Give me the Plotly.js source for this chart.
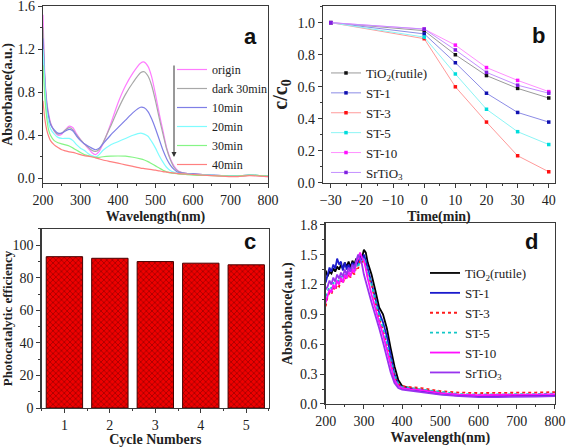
<!DOCTYPE html>
<html><head><meta charset="utf-8">
<script src="https://cdn.plot.ly/plotly-3.0.1.min.js"></script>
<style>html,body{margin:0;padding:0;background:#fff}#chart{width:567px;height:447px}</style>
</head><body><div id="chart"></div><script>
// ---------- Panel a: UV-vis spectra during degradation ----------
var wlA = [200,205,210,215,220,230,240,250,260,270,280,290,300,310,320,330,340,350,360,380,400,420,440,460,470,480,490,500,510,520,530,540,550,560,580,600,650,700,720,750,780,800];
var absOrigin = [1.52,0.95,0.72,0.60,0.52,0.44,0.40,0.41,0.45,0.485,0.47,0.41,0.36,0.32,0.28,0.24,0.22,0.25,0.32,0.50,0.70,0.86,0.98,1.07,1.08,1.04,0.94,0.78,0.60,0.44,0.28,0.18,0.11,0.07,0.045,0.04,0.03,0.02,0.02,0.03,0.02,0.015];
var absDark30 = [1.40,0.92,0.70,0.58,0.51,0.44,0.41,0.42,0.45,0.47,0.45,0.40,0.36,0.32,0.29,0.26,0.25,0.27,0.33,0.48,0.64,0.78,0.89,0.98,0.99,0.95,0.86,0.72,0.56,0.41,0.27,0.17,0.10,0.065,0.045,0.04,0.03,0.02,0.02,0.03,0.025,0.02];
var abs10 = [1.30,0.90,0.68,0.57,0.50,0.45,0.42,0.42,0.44,0.455,0.44,0.39,0.35,0.32,0.30,0.28,0.265,0.28,0.32,0.40,0.47,0.54,0.61,0.66,0.655,0.62,0.55,0.46,0.36,0.26,0.18,0.12,0.08,0.055,0.045,0.04,0.03,0.02,0.02,0.03,0.025,0.02];
var abs20 = [1.20,0.85,0.62,0.52,0.46,0.41,0.38,0.37,0.37,0.37,0.35,0.31,0.28,0.26,0.23,0.21,0.20,0.22,0.26,0.31,0.34,0.37,0.40,0.42,0.41,0.39,0.34,0.28,0.21,0.15,0.10,0.07,0.055,0.045,0.04,0.035,0.03,0.02,0.02,0.03,0.025,0.02];
var abs30 = [1.05,0.75,0.56,0.45,0.40,0.35,0.33,0.32,0.31,0.30,0.28,0.26,0.24,0.22,0.21,0.20,0.195,0.195,0.20,0.205,0.207,0.205,0.195,0.18,0.17,0.155,0.135,0.115,0.095,0.075,0.06,0.05,0.045,0.04,0.035,0.03,0.025,0.02,0.02,0.03,0.025,0.02];
var abs40 = [0.72,0.55,0.45,0.39,0.35,0.31,0.285,0.265,0.255,0.245,0.24,0.23,0.22,0.21,0.205,0.20,0.19,0.18,0.17,0.155,0.14,0.125,0.11,0.095,0.09,0.085,0.08,0.075,0.068,0.062,0.057,0.052,0.048,0.044,0.04,0.035,0.025,0.015,0.015,0.025,0.02,0.015];
var namesA = ['origin','dark 30min','10min','20min','30min','40min'];

// ---------- Panel b: c/c0 vs time ----------
var timeB = [-30,0,10,20,30,40];
var ccTiO2 = [1.0,0.95,0.80,0.67,0.59,0.53];
var ccST1 = [1.0,0.93,0.75,0.56,0.44,0.38];
var ccST3 = [1.0,0.90,0.60,0.38,0.17,0.07];
var ccST5 = [1.0,0.91,0.68,0.46,0.32,0.24];
var ccST10 = [1.0,0.96,0.86,0.72,0.64,0.57];
var ccSrTiO3 = [1.0,0.96,0.83,0.69,0.61,0.56];
var namesB = ['TiO<sub>2</sub>(rutile)','ST-1','ST-3','ST-5','ST-10','SrTiO<sub>3</sub>'];

// ---------- Panel c: cycling ----------
var cycles = [1,2,3,4,5];
var efficiency = [93,92,90,89,88];

// ---------- Panel d: diffuse reflectance absorbance ----------
var wlD = [200,205,210,215,220,225,230,235,240,245,250,255,260,265,270,275,280,285,290,295,300,305,310,320,330,340,350,360,370,380,390,400,420,450,500,550,600,650,700,750,800];
var dTiO2 = [1.34,1.28,1.33,1.31,1.36,1.33,1.38,1.35,1.40,1.36,1.42,1.38,1.43,1.37,1.44,1.40,1.46,1.42,1.50,1.47,1.55,1.52,1.42,1.30,1.14,0.97,0.90,0.76,0.56,0.38,0.24,0.18,0.16,0.14,0.11,0.09,0.08,0.08,0.08,0.085,0.09];
var dST1 = [1.22,1.30,1.37,1.33,1.40,1.36,1.46,1.40,1.43,1.34,1.42,1.35,1.40,1.33,1.42,1.38,1.44,1.40,1.48,1.45,1.50,1.44,1.36,1.22,1.06,0.92,0.82,0.68,0.48,0.30,0.20,0.16,0.15,0.13,0.10,0.085,0.08,0.08,0.08,0.08,0.085];
var dST3 = [0.98,1.08,1.12,1.10,1.17,1.14,1.20,1.18,1.24,1.21,1.28,1.25,1.31,1.27,1.34,1.30,1.38,1.36,1.44,1.42,1.45,1.38,1.28,1.21,1.02,0.86,0.74,0.58,0.42,0.27,0.20,0.18,0.17,0.16,0.13,0.115,0.11,0.11,0.11,0.115,0.12];
var dST5 = [1.08,1.14,1.18,1.16,1.22,1.19,1.25,1.23,1.28,1.25,1.31,1.28,1.34,1.30,1.36,1.33,1.40,1.37,1.45,1.42,1.47,1.40,1.32,1.20,1.04,0.88,0.77,0.60,0.43,0.28,0.20,0.17,0.16,0.145,0.12,0.10,0.095,0.095,0.095,0.10,0.105];
var dST10 = [1.02,1.10,1.15,1.12,1.20,1.16,1.24,1.20,1.27,1.22,1.30,1.26,1.33,1.28,1.36,1.32,1.42,1.46,1.52,1.47,1.44,1.36,1.26,1.10,0.95,0.82,0.70,0.54,0.38,0.24,0.18,0.16,0.15,0.14,0.11,0.095,0.09,0.09,0.09,0.095,0.10];
var dSrTiO3 = [1.15,1.18,1.24,1.20,1.27,1.23,1.30,1.26,1.32,1.28,1.35,1.30,1.37,1.33,1.40,1.36,1.44,1.50,1.46,1.40,1.30,1.22,1.16,1.02,0.90,0.76,0.62,0.46,0.32,0.21,0.16,0.145,0.135,0.12,0.095,0.08,0.07,0.07,0.07,0.075,0.08];
var namesD = ['TiO<sub>2</sub>(rutile)','ST-1','ST-3','ST-5','ST-10','SrTiO<sub>3</sub>'];
var yTicksD = [0, 0.3, 0.6, 0.9, 1.2, 1.5, 1.8];
var yTickTextD = ['0.0','0.3','0.6','0.9','1.2','1.5','1.8'];

var serif = 'Liberation Serif';
var sans = 'Liberation Sans';

var traces = [];
var seriesA = [absOrigin, absDark30, abs10, abs20, abs30, abs40];
var colorsA = ['#ff7cff','#a8a8a8','#7f7fe6','#7ffcff','#86f586','#ff8080'];
seriesA.forEach(function(s,i){
  traces.push({x: wlA, y: s, name: namesA[i], type:'scatter', mode:'lines', line:{color:colorsA[i], width:1.2, shape:'spline', smoothing:0.6}, xaxis:'x', yaxis:'y', legend:'legend'});
});

var seriesB = [ccTiO2, ccST1, ccST3, ccST5, ccST10, ccSrTiO3];
var lineColB = ['#9a9a9a','#8c8ce6','#ff9a9a','#8cf5f5','#ff90ff','#c490ff'];
var mkColB = ['#111111','#1010b0','#ff1010','#00dcdc','#ff10ff','#8020e0'];
seriesB.forEach(function(s,i){
  traces.push({x: timeB, y: s, name: namesB[i], type:'scatter', mode:'lines+markers', line:{color:lineColB[i], width:1}, marker:{symbol:'square', size:3.5, color:mkColB[i]}, xaxis:'x2', yaxis:'y2', legend:'legend2'});
});

traces.push({x: cycles, y: efficiency, type:'bar', showlegend:false, xaxis:'x3', yaxis:'y3',
  marker:{color:'#ee0000', line:{color:'#4a0000', width:1}, pattern:{shape:'x', fgcolor:'#7a0000', bgcolor:'#ee0000', size:4, solidity:0.25}}});

var seriesD = [dTiO2, dST1, dST3, dST5, dST10, dSrTiO3];
var colD = ['#000000','#1a1acc','#ff1a1a','#10c8c8','#ff10ff','#9933ee'];
var dashD = ['solid','solid','dot','dot','solid','solid'];
seriesD.forEach(function(s,i){
  traces.push({x: wlD, y: s, name: namesD[i], type:'scatter', mode:'lines', line:{color:colD[i], width:1.8, dash:dashD[i]}, xaxis:'x4', yaxis:'y4', legend:'legend3'});
});

function ax(extra){
  var base = {showline:true, linecolor:'#3a3a3a', linewidth:1.3, mirror:true, ticks:'outside', ticklen:4, tickwidth:1, tickcolor:'#3a3a3a',
    showgrid:false, zeroline:false, tickfont:{family:serif, size:14, color:'#222'}, automargin:false, fixedrange:true, ticklabeloverflow:'allow'};
  for (var k in extra) base[k] = extra[k];
  return base;
}
function ttl(t, size, standoff){ return {text:'<b>'+t+'</b>', font:{family:serif, size:size, color:'#222'}, standoff:standoff}; }
var minorTick = function(d){ return {ticks:'outside', ticklen:2, tickcolor:'#3a3a3a', dtick:d}; };

var layout = {
  width:567, height:447, margin:{l:0,r:0,t:0,b:0}, paper_bgcolor:'#fff', plot_bgcolor:'#fff',
  font:{family:serif},
  showlegend:true, bargap:0.2,
  xaxis: ax({domain:[0.0758,0.4727], anchor:'y', range:[200,800], tick0:200, dtick:100, minor:minorTick(50), title:ttl('Wavelength(nm)',14,4)}),
  yaxis: ax({domain:[0.5906,0.9866], anchor:'x', range:[-0.044,1.601], tick0:0, dtick:0.4, tickformat:'.1f', minor:minorTick(0.2), title:ttl('Absorbance(a.u.)',14,4)}),
  xaxis2: ax({domain:[0.5697,0.9788], anchor:'y2', range:[-32.5,42], tick0:-30, dtick:10, minor:minorTick(5), title:ttl('Time(min)',14,4)}),
  yaxis2: ax({domain:[0.5906,0.9866], anchor:'x2', range:[0,1.104], tick0:0, dtick:0.2, tickformat:'.1f', minor:minorTick(0.1), title:ttl('c/c<sub>0</sub>',20,4)}),
  xaxis3: ax({domain:[0.0735,0.4744], anchor:'y3', range:[0.5,5.5], tick0:1, dtick:1, minor:minorTick(0.5), title:ttl('Cycle Numbers',14,4)}),
  yaxis3: ax({domain:[0.0872,0.4877], anchor:'x3', range:[0,110], tick0:0, dtick:20, minor:minorTick(10), title:ttl('Photocatalytic efficiency',13,3)}),
  xaxis4: ax({domain:[0.5744,0.9788], anchor:'y4', range:[200,800], tick0:200, dtick:100, minor:minorTick(50), title:ttl('Wavelength(nm)',14,4)}),
  yaxis4: ax({domain:[0.0962,0.5005], anchor:'x4', range:[0,1.815], tickmode:'array', tickvals:yTicksD, ticktext:yTickTextD, minor:minorTick(0.15), title:ttl('Absorbance(a.u.)',14,4)}),
  legend: {x:172/567, y:1-55/447, xanchor:'left', yanchor:'top', bgcolor:'rgba(0,0,0,0)', borderwidth:0, font:{family:serif, size:12, color:'#222'}},
  legend2: {x:326/567, y:1-58/447, xanchor:'left', yanchor:'top', bgcolor:'rgba(0,0,0,0)', borderwidth:0, font:{family:serif, size:13, color:'#222'}},
  legend3: {x:425/567, y:1-258/447, xanchor:'left', yanchor:'top', bgcolor:'rgba(0,0,0,0)', borderwidth:0, font:{family:serif, size:13, color:'#222'}},
  annotations: [
    {xref:'paper', yref:'paper', x:250/567, y:1-22/447, text:'<b>a</b>', showarrow:false, font:{family:sans, size:22, color:'#111'}},
    {xref:'paper', yref:'paper', x:547/567, y:1-21/447, text:'<b>b</b>', showarrow:false, font:{family:sans, size:22, color:'#111'}},
    {xref:'paper', yref:'paper', x:250/567, y:1-241/447, text:'<b>c</b>', showarrow:false, font:{family:sans, size:22, color:'#111'}},
    {xref:'paper', yref:'paper', x:540/567, y:1-241/447, text:'<b>d</b>', showarrow:false, font:{family:sans, size:22, color:'#111'}},
    {xref:'paper', yref:'paper', x:174/567, y:1-157/447, text:' ', showarrow:true, ax:0, ay:-100, arrowhead:2, arrowsize:1, arrowwidth:1, arrowcolor:'#333'}
  ]
};

Plotly.newPlot('chart', traces, layout, {staticPlot:true, displayModeBar:false});
</script></body></html>
